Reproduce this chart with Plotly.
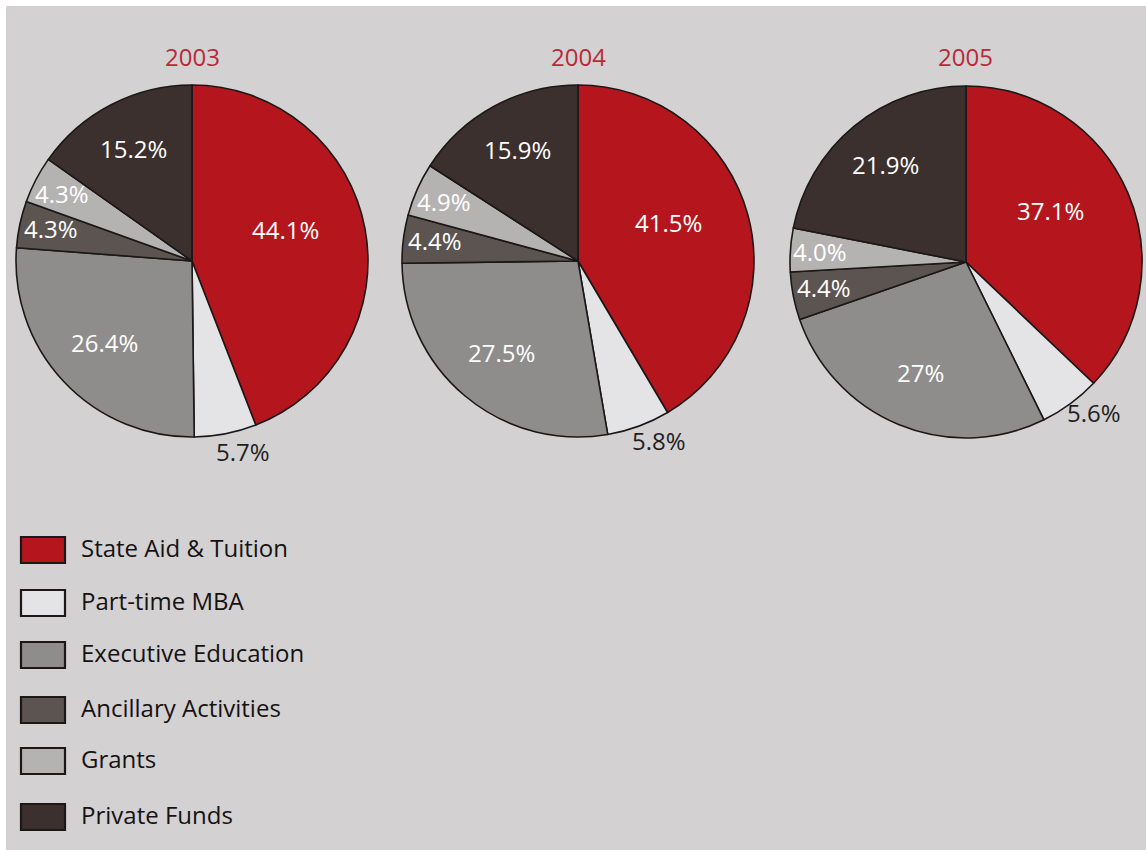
import math
import plotly.graph_objects as go

# ---- data ----
categories = ["State Aid & Tuition", "Part-time MBA", "Executive Education",
              "Ancillary Activities", "Grants", "Private Funds"]
years = ["2003", "2004", "2005"]
values_2003 = [44.1, 5.7, 26.4, 4.3, 4.3, 15.2]
values_2004 = [41.5, 5.8, 27.5, 4.4, 4.9, 15.9]
values_2005 = [37.1, 5.6, 27.0, 4.4, 4.0, 21.9]
labels_2003 = ["44.1%", "5.7%", "26.4%", "4.3%", "4.3%", "15.2%"]
labels_2004 = ["41.5%", "5.8%", "27.5%", "4.4%", "4.9%", "15.9%"]
labels_2005 = ["37.1%", "5.6%", "27%", "4.4%", "4.0%", "21.9%"]

# ---- style ----
W, H = 1146, 850
colors = ["#b5161e", "#e4e3e6", "#8f8d8b", "#5c5450", "#b5b3b2", "#3b302e"]
label_colors = ["white", "#221e1e", "white", "white", "white", "white"]
label_radial = [0.56, 1.12, 0.68, 0.82, 0.83, 0.72]   # fraction of radius
label_angle_off = [-8, -4, 0, 1, 0, 0]                 # degrees
centers = [(192, 261), (578, 261), (966, 262)]
radius = 176
bg = "#d3d1d2"
title_color = "#b82a38"
font_family = "Open Sans, Noto Sans, sans-serif"

all_values = [values_2003, values_2004, values_2005]
all_labels = [labels_2003, labels_2004, labels_2005]

def px(x):
    return x / W

def py(y):
    return 1 - y / H

fig = go.Figure()
annotations = []
shapes = [dict(type="rect", xref="paper", yref="paper", x0=px(6), x1=1, y0=0, y1=py(6),
               fillcolor=bg, line=dict(width=0), layer="below")]

for year, vals, labs, (cx, cy) in zip(years, all_values, all_labels, centers):
    fig.add_trace(go.Pie(
        labels=categories, values=vals, sort=False, direction="clockwise", rotation=0,
        marker=dict(colors=colors, line=dict(color="#1c1818", width=1.6)),
        textinfo="none", hoverinfo="label+percent", showlegend=False,
        domain=dict(x=[px(cx - radius), px(cx + radius)], y=[py(cy + radius), py(cy - radius)]),
    ))
    annotations.append(dict(x=px(cx), y=py(57), xref="paper", yref="paper", text=year,
                            xanchor="center", yanchor="middle",
                            showarrow=False, font=dict(size=24, color=title_color, family=font_family)))
    total = sum(vals)
    cum = 0.0
    for i, (v, t) in enumerate(zip(vals, labs)):
        mid = (cum + v / 2) / total * 360 + label_angle_off[i]
        cum += v
        rr = label_radial[i] * radius
        lx = cx + rr * math.sin(math.radians(mid))
        ly = cy - rr * math.cos(math.radians(mid))
        annotations.append(dict(x=px(lx), y=py(ly), xref="paper", yref="paper", text=t,
                                xanchor="center", yanchor="middle", showarrow=False,
                                font=dict(size=24, color=label_colors[i], family=font_family)))

# legend
legend_rows = [550, 603, 655, 710, 761, 817]
for cat, col, yc in zip(categories, colors, legend_rows):
    shapes.append(dict(type="rect", xref="paper", yref="paper",
                       x0=px(21), x1=px(65), y0=py(yc + 13), y1=py(yc - 13),
                       fillcolor=col, line=dict(color="#1c1818", width=2.2)))
    annotations.append(dict(x=px(79), y=py(yc - 3), xref="paper", yref="paper", text=cat,
                            xanchor="left", yanchor="middle", showarrow=False,
                            font=dict(size=24, color="#161212", family=font_family)))

fig.update_layout(
    width=W, height=H, margin=dict(l=0, r=0, t=0, b=0),
    paper_bgcolor="white", plot_bgcolor="white",
    annotations=annotations, shapes=shapes,
)
fig.write_html("out.html")
